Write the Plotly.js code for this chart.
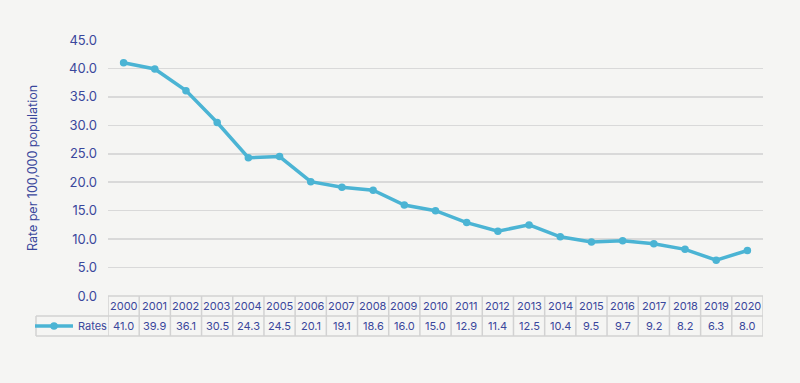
<!DOCTYPE html>
<html>
<head>
<meta charset="utf-8">
<script src="https://cdn.plot.ly/plotly-3.0.1.min.js"></script>
<style>html,body{margin:0;padding:0;background:#f5f5f3;}#chart{width:800px;height:383px;}</style>
</head>
<body>
<div id="chart"></div>
<script>
const years = [2000,2001,2002,2003,2004,2005,2006,2007,2008,2009,2010,2011,2012,2013,2014,2015,2016,2017,2018,2019,2020];
const rates = [41.0,39.9,36.1,30.5,24.3,24.5,20.1,19.1,18.6,16.0,15.0,12.9,11.4,12.5,10.4,9.5,9.7,9.2,8.2,6.3,8.0];
const seriesName = 'Rates';
const yTicks = [0,5,10,15,20,25,30,35,40,45];

const W = 800, H = 383;
const mL = 108, mR = 37, mT = 39.5, mB = 87;
const plotH = H - mT - mB;
const plotW = W - mL - mR;
const topPx = H - mB;
const py = p => (topPx - p) / plotH;
const px = p => (p - mL) / plotW;

const textColor = '#3a479c';
const borderColor = '#d2d2d2';
const lineColor = '#4bb4d4';

const shapes = [];
const annotations = [];
const rowTop = topPx, rowMid = topPx + 20, rowBot = topPx + 40;

shapes.push({type:'line', xref:'x', yref:'paper', x0:years[0]-0.5, x1:years[years.length-1]+0.5, y0:py(rowTop), y1:py(rowTop), line:{color:borderColor,width:1.5}});
shapes.push({type:'line', xref:'paper', yref:'paper', x0:px(36), x1:1, y0:py(rowMid), y1:py(rowMid), line:{color:borderColor,width:1.5}});
shapes.push({type:'line', xref:'paper', yref:'paper', x0:px(36), x1:1, y0:py(rowBot), y1:py(rowBot), line:{color:borderColor,width:1.5}});
shapes.push({type:'line', xref:'paper', yref:'paper', x0:px(36), x1:px(36), y0:py(rowMid), y1:py(rowBot), line:{color:borderColor,width:1.5}});
years.forEach((yr,i) => {
  shapes.push({type:'line', xref:'x', yref:'paper', x0:yr-0.5, x1:yr-0.5, y0:py(rowTop), y1:py(rowBot), line:{color:borderColor,width:1.5}});
  annotations.push({xref:'x', yref:'paper', x:yr, y:py((rowTop+rowMid)/2), text:String(yr), showarrow:false, yanchor:'middle', xanchor:'center', font:{size:11, color:textColor}});
  annotations.push({xref:'x', yref:'paper', x:yr, y:py((rowMid+rowBot)/2), text:rates[i].toFixed(1), showarrow:false, yanchor:'middle', xanchor:'center', font:{size:11, color:textColor}});
});
shapes.push({type:'line', xref:'x', yref:'paper', x0:years[years.length-1]+0.5, x1:years[years.length-1]+0.5, y0:py(rowTop), y1:py(rowBot), line:{color:borderColor,width:1.5}});

const trace = {
  x: years, y: rates, name: seriesName, type:'scatter', mode:'lines+markers',
  line:{color:lineColor, width:3.5}, marker:{color:lineColor, size:7.5}, cliponaxis:false
};

const layout = {
  width: W, height: H,
  margin:{l:mL, r:mR, t:mT, b:mB, pad:0},
  paper_bgcolor:'#f5f5f3', plot_bgcolor:'#f5f5f3',
  font:{family:'Inter, "Open Sans", sans-serif', color:textColor},
  showlegend:true,
  legend:{x:px(30), y:py((rowMid+rowBot)/2), xanchor:'left', yanchor:'middle', bgcolor:'rgba(0,0,0,0)', font:{size:11,color:textColor}, itemwidth:38},
  xaxis:{range:[years[0]-0.5, years[years.length-1]+0.5], showgrid:false, zeroline:false, showticklabels:false, showline:false, fixedrange:true},
  yaxis:{range:[0,45], tickvals:yTicks, ticktext:yTicks.map(v=>v.toFixed(1)), showgrid:true, gridcolor:'#d9d9d9', gridwidth:1.5, zeroline:false, showline:false,
    tickfont:{size:13,color:textColor}, ticklabelstandoff:10,
    title:{text:'Rate per 100,000 population', font:{size:12.5,color:textColor}, standoff:28}},
  shapes: shapes,
  annotations: annotations
};

Plotly.newPlot('chart', [trace], layout, {displayModeBar:false, staticPlot:true});
</script>
</body>
</html>
